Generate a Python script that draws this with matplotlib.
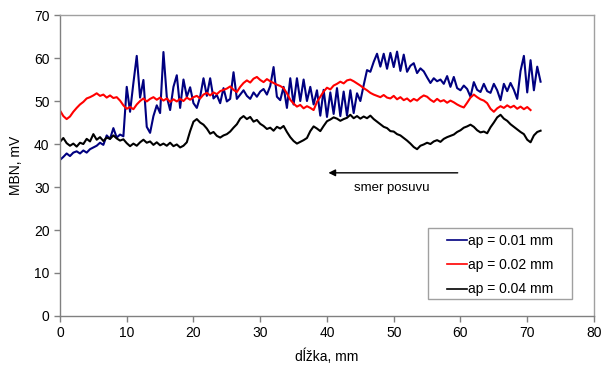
import numpy as np
import matplotlib
matplotlib.use("Agg")
import matplotlib.pyplot as plt
from matplotlib.patches import Rectangle

plt.rcParams['font.family'] = ['Liberation Sans', 'DejaVu Sans']

step = 0.5

blue_vals = [
    36.3, 37.0, 37.8, 37.2, 38.0, 38.3, 37.8, 38.5, 38.0, 38.8,
    39.2, 39.6, 40.3, 39.8, 42.0, 41.2, 43.7, 41.5, 42.2, 41.8,
    53.3, 47.5, 54.2, 60.5, 50.8, 54.9, 44.0, 42.6, 46.5, 49.0,
    47.2, 61.4, 51.0, 47.9, 53.3, 56.0, 48.4, 55.0, 51.0, 53.2,
    49.5, 48.4, 51.0, 55.3, 51.2, 55.3, 50.6, 51.4, 49.5, 53.0,
    49.9, 50.5, 56.7, 50.5, 51.5, 52.5, 51.2, 50.5, 52.0, 51.0,
    52.2, 52.8, 51.5, 53.5, 57.9, 51.0, 50.2, 53.3, 48.4, 55.3,
    49.2, 55.3, 50.0, 55.0, 50.0, 53.3, 49.2, 52.5, 46.6, 52.6,
    46.3, 52.0, 47.0, 53.0, 46.5, 52.2, 46.6, 52.5, 47.2, 51.8,
    50.0, 53.7, 57.2, 56.8, 59.1, 61.0, 58.0, 61.0, 57.5, 61.2,
    57.9, 61.5, 57.0, 60.8, 56.8, 58.2, 58.8, 56.5, 57.6, 56.9,
    55.5, 54.2, 55.3, 54.6, 55.0, 54.0, 55.8, 53.3, 55.6, 53.0,
    52.5, 53.6, 52.8, 51.0, 54.4, 52.6, 52.1, 54.0, 52.3, 51.9,
    54.0, 52.5, 50.2, 54.0, 52.3, 54.2, 52.6, 50.5, 57.0, 60.5,
    52.0, 59.5, 52.5, 58.0, 54.5,
]

red_vals = [
    47.8, 46.5, 45.8, 46.4, 47.5, 48.4, 49.2, 49.8, 50.6, 50.9,
    51.3, 51.8, 51.2, 51.5, 50.8, 51.3, 50.7, 50.9, 50.1, 49.0,
    48.2, 48.6, 48.1, 49.2, 50.0, 50.6, 49.9, 50.5, 50.9, 50.3,
    50.8, 50.1, 50.6, 49.8, 50.4, 49.9, 50.5, 50.0, 50.8, 50.3,
    50.9, 51.2, 50.6, 51.5, 51.9, 51.3, 52.0, 51.6, 52.3, 52.6,
    52.9, 53.4, 52.6, 52.1, 53.3, 54.2, 54.8, 54.3, 55.2, 55.6,
    54.9, 54.4, 55.1, 54.6, 54.2, 53.8, 53.5, 53.0, 51.8, 50.3,
    49.4, 48.7, 49.1, 48.3, 48.8, 48.4, 47.9, 49.8, 51.0, 52.2,
    53.1, 52.7, 53.6, 54.0, 54.5, 54.1, 54.8, 55.0, 54.6, 54.1,
    53.6, 53.0, 52.5, 51.9, 51.5, 51.2, 50.9, 51.4, 50.8, 50.6,
    51.2, 50.4, 50.9, 50.2, 50.6, 49.9, 50.5, 50.1, 50.8, 51.3,
    51.0, 50.3, 49.8, 50.5, 49.9, 50.2, 49.6, 50.1, 49.7, 49.2,
    48.8, 48.5, 49.6, 50.8, 51.5, 50.9, 50.4, 50.1, 49.5, 48.2,
    47.5, 48.3, 48.8, 48.4, 49.0, 48.5, 48.9, 48.2, 48.7, 48.1,
    48.6, 47.9,
]

black_vals = [
    40.5, 41.4, 40.2, 39.6, 40.1, 39.4, 40.3, 40.0, 41.2, 40.6,
    42.3, 41.0, 41.6, 40.7, 41.5, 41.2, 42.0, 41.3, 40.8, 41.1,
    40.2, 39.5, 40.1, 39.6, 40.4, 41.0, 40.3, 40.6, 39.8, 40.4,
    39.7, 40.1, 39.6, 40.3, 39.5, 39.9, 39.2, 39.6, 40.4, 43.0,
    45.2, 45.8, 45.0, 44.5, 43.6, 42.4, 42.8, 41.9, 41.5, 42.0,
    42.3, 42.9, 43.8, 44.6, 45.9, 46.5, 45.8, 46.3, 45.2, 45.6,
    44.7, 44.2, 43.5, 43.8, 43.1, 44.0, 43.6, 44.2, 42.8, 41.6,
    40.7, 40.1, 40.5, 40.9, 41.4, 43.0, 44.1, 43.6, 43.0, 44.2,
    45.3, 45.7, 46.2, 45.9, 45.4, 45.8, 46.1, 46.8, 46.0, 46.5,
    45.9, 46.4, 46.0, 46.6, 45.8, 45.2, 44.6, 44.0, 43.7, 43.0,
    42.9, 42.3, 42.0, 41.4, 40.8, 40.1, 39.3, 38.8, 39.6, 39.9,
    40.3, 40.0, 40.6, 40.9, 40.5, 41.2, 41.6, 41.9, 42.2, 42.8,
    43.2, 43.8, 44.1, 44.5, 44.0, 43.2, 42.7, 42.9, 42.5, 43.9,
    45.0, 46.2, 46.8, 45.9, 45.4, 44.6, 44.0, 43.4, 42.8, 42.3,
    41.0, 40.4, 42.0, 42.8, 43.1,
]

labels = ["ap = 0.01 mm", "ap = 0.02 mm", "ap = 0.04 mm"]
colors = ["#000080", "#FF0000", "#000000"]

x_ticks = [0, 10, 20, 30, 40, 50, 60, 70, 80]
y_ticks = [0, 10, 20, 30, 40, 50, 60, 70]

fig = plt.figure(figsize=(6.01, 3.67), dpi=100)
ax = fig.add_axes([0.0998, 0.139, 0.8885, 0.820])

for vals, lab, col in zip([blue_vals, red_vals, black_vals], labels, colors):
    xs = np.arange(len(vals)) * step
    ax.plot(xs, vals, color=col, lw=1.5, label=lab)

ax.set_xlim(0, 80)
ax.set_ylim(0, 70)
ax.set_xticks(x_ticks)
ax.set_yticks(y_ticks)
ax.tick_params(direction='out', length=4, width=1, color='#808080',
               labelsize=10, labelcolor='#000000')
for s in ax.spines.values():
    s.set_color('#a0a0a0')
    s.set_linewidth(1)
ax.spines['left'].set_color('#808080')
ax.spines['bottom'].set_color('#808080')

ax.set_xlabel("dĺžka, mm", fontsize=10, labelpad=6)
ax.set_ylabel("MBN, mV", fontsize=10, labelpad=8)

ax.annotate("", xy=(39.8, 33.3), xytext=(60.0, 33.3),
            arrowprops=dict(arrowstyle='-|>', color='black', lw=1,
                            mutation_scale=10))
ax.text(49.7, 29.8, "smer posuvu", ha='center', va='center', fontsize=9.5)

# legend box
ax.add_patch(Rectangle((0.689, 0.0565), 0.270, 0.2355, transform=ax.transAxes,
                       facecolor='white', edgecolor='#a0a0a0', lw=1, zorder=4))
leg = ax.legend(loc='upper left', bbox_to_anchor=(0.725, 0.274),
                fontsize=10, frameon=False, handlelength=1.4,
                handletextpad=0.1, borderpad=0, labelspacing=0.75,
                borderaxespad=0)
leg.set_zorder(5)
for h in leg.get_lines():
    h.set_linewidth(1.2)

fig.savefig("out.png", dpi=100)
